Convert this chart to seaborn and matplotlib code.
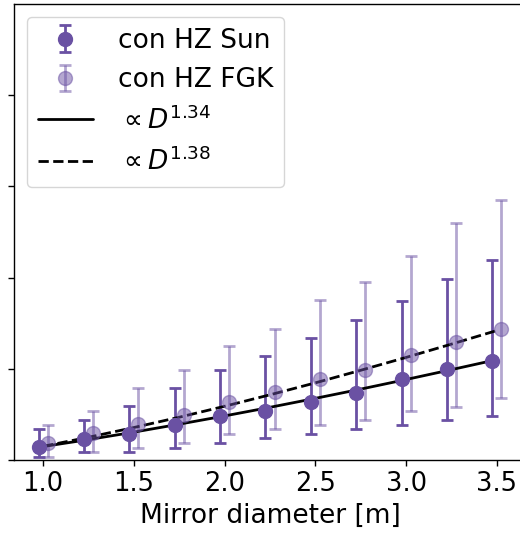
import matplotlib
matplotlib.use("Agg")
import matplotlib.pyplot as plt
import numpy as np
import pandas as pd
import seaborn as sns

# mirror diameters [m]
diameters = [1.0, 1.25, 1.5, 1.75, 2.0, 2.25, 2.5, 2.75, 3.0, 3.25, 3.5]

# yields, HZ around the Sun
sun_val = [1.4, 2.27, 2.86, 3.85, 4.84, 5.42, 6.4, 7.3, 8.9, 9.96, 10.9]
sun_lo = [0.36, 0.85, 0.85, 1.35, 1.83, 2.38, 2.86, 3.37, 3.85, 4.4, 4.87]
sun_hi = [3.4, 4.4, 5.9, 7.9, 9.9, 11.4, 13.4, 15.4, 17.4, 19.9, 21.9]

# yields, HZ around FGK stars
fgk_val = [1.83, 2.93, 3.96, 4.95, 6.4, 7.44, 8.9, 9.9, 11.46, 12.93, 14.4]
fgk_lo = [0.36, 0.85, 1.35, 1.83, 2.86, 3.37, 3.85, 4.4, 5.38, 5.86, 6.78]
fgk_hi = [3.85, 5.38, 7.88, 9.9, 12.45, 14.4, 17.5, 19.5, 22.4, 26.0, 28.5]

# fitted power laws, read at the same diameters
fit_134 = [1.40, 2.16, 2.97, 3.84, 4.74, 5.68, 6.66, 7.67, 8.72, 9.80, 10.90]
fit_138 = [1.50, 2.49, 3.56, 4.69, 5.89, 7.15, 8.46, 9.84, 11.25, 12.71, 14.20]

sun_color = "#6a51a3"
shift = 0.025

black = {"axes.edgecolor": "black", "xtick.color": "black", "ytick.color": "black",
         "text.color": "black", "axes.labelcolor": "black"}
sns.set_style("ticks", black)
plt.rcParams["font.family"] = ["DejaVu Sans"]
plt.rcParams["mathtext.fontset"] = "dejavusans"
plt.rcParams["axes.linewidth"] = 1.0

fig = plt.figure(figsize=(5.2, 5.35), dpi=100)
ax = fig.add_axes([14 / 520, 75 / 535, 512 / 520, 456 / 535])

d = np.array(diameters)
sv, fv = np.array(sun_val), np.array(fgk_val)
ax.errorbar(d - shift, sv, yerr=[sv - np.array(sun_lo), np.array(sun_hi) - sv],
            fmt="o", color=sun_color, ms=10, elinewidth=2, capsize=4, capthick=2,
            label="con HZ Sun")
ax.errorbar(d + shift, fv, yerr=[fv - np.array(fgk_lo), np.array(fgk_hi) - fv],
            fmt="o", color=sun_color, alpha=0.5, ms=10, elinewidth=2, capsize=4,
            capthick=2, label="con HZ FGK")

fits = pd.DataFrame({"D": np.concatenate([d - shift, d]),
                     "y": fit_134 + fit_138,
                     "fit": ["a"] * len(d) + ["b"] * len(d)})
sns.lineplot(data=fits[fits.fit == "a"], x="D", y="y", color="black", lw=2,
             ax=ax, label=r"$\propto D^{1.34}$")
sns.lineplot(data=fits[fits.fit == "b"], x="D", y="y", color="black", lw=2,
             ls="--", ax=ax, label=r"$\propto D^{1.38}$")

ax.set_xlim(0.84, 3.66)
ax.set_ylim(0, 50)
ax.set_yticks([0, 10, 20, 30, 40])
ax.set_yticklabels([])
ax.set_xticks([1.0, 1.5, 2.0, 2.5, 3.0, 3.5])
ax.tick_params(labelsize=18.5, length=4.5, width=1)
ax.set_xlabel("Mirror diameter [m]", fontsize=19)
ax.set_ylabel("")

handles, labels = ax.get_legend_handles_labels()
order = [labels.index(l) for l in ["con HZ Sun", "con HZ FGK",
                                   r"$\propto D^{1.34}$", r"$\propto D^{1.38}$"]]
ax.legend([handles[i] for i in order], [labels[i] for i in order],
          loc="upper left", fontsize=19, frameon=True,
          handlelength=2.1, handletextpad=0.95)

fig.savefig("out.png", dpi=100)
